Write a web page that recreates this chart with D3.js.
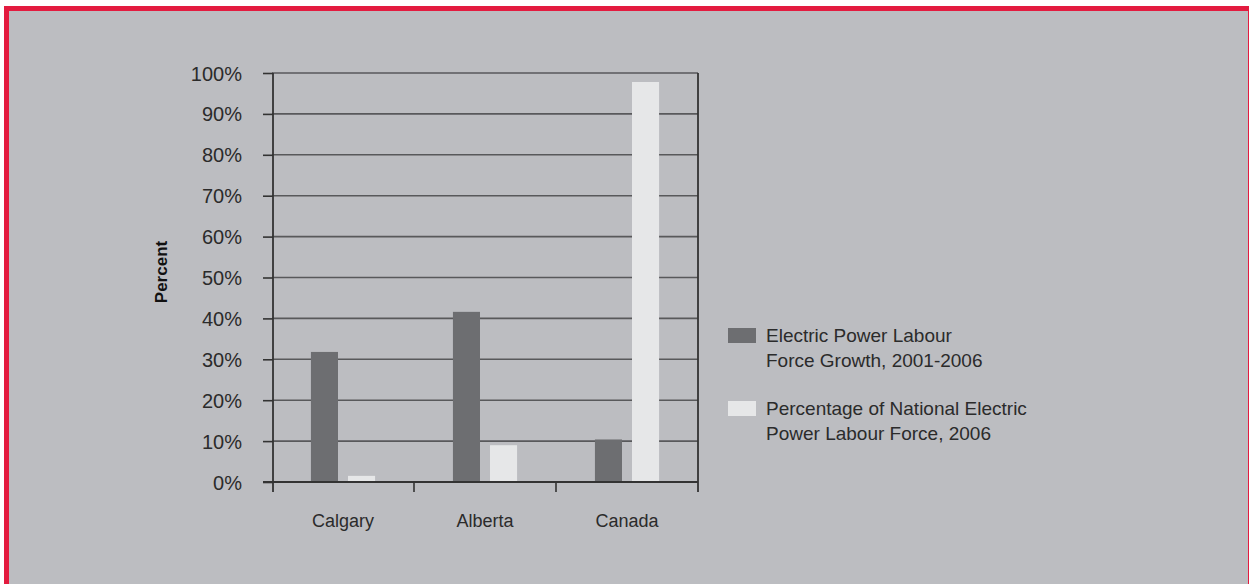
<!DOCTYPE html>
<html>
<head>
<meta charset="utf-8">
<script src="https://cdn.jsdelivr.net/npm/d3@7"></script>
<style>
  body { margin:0; background:#fff; }
  text { font-family:"Liberation Sans", Arial, sans-serif; fill:#2b2b2b; }
</style>
</head>
<body>
<svg id="chart" width="1249" height="584"></svg>
<script>
// data
var categories = ["Calgary","Alberta","Canada"];
var series = ["Electric Power Labour Force Growth, 2001-2006",
              "Percentage of National Electric Power Labour Force, 2006"];
var growth  = [31.8, 41.6, 10.4];
var share   = [1.5, 9.0, 97.8];
var yTicks  = [0,10,20,30,40,50,60,70,80,90,100];
var legendLines = [["Electric Power Labour","Force Growth, 2001-2006"],
                   ["Percentage of National Electric","Power Labour Force, 2006"]];
var colors = ["#6d6e71","#e6e7e8"];

var svg = d3.select("#chart");

// frame
svg.append("rect")
  .attr("x",6.5).attr("y",8.5).attr("width",1244).attr("height",590)
  .style("fill","#bcbdc1").style("stroke","#e31b3f").style("stroke-width",5);

var x0 = d3.scaleBand().domain(categories).range([272,698]);
var x1 = d3.scaleBand().domain(d3.range(series.length))
  .range([0,x0.bandwidth()]).paddingInner(0.27).paddingOuter(1.05);
var y = d3.scaleLinear().domain([0,100]).range([482,73]);

//格線
svg.append("g").selectAll("line").data(yTicks.filter(function(d){return d>0;}))
  .enter().append("line")
  .attr("x1",272).attr("x2",698)
  .attr("y1",function(d){return y(d);}).attr("y2",function(d){return y(d);})
  .style("stroke","#58595b").style("stroke-width",1.6);

// bars
var rows = categories.map(function(c,i){ return {name:c, values:[growth[i],share[i]]}; });
var grp = svg.append("g").selectAll("g").data(rows).enter().append("g")
  .attr("transform",function(d){return "translate("+x0(d.name)+",0)";});
grp.selectAll("rect").data(function(d){return d.values;}).enter().append("rect")
  .attr("x",function(d,i){return x1(i);})
  .attr("width",x1.bandwidth())
  .attr("y",function(d){return y(d);})
  .attr("height",function(d){return y(0)-y(d);})
  .style("fill",function(d,i){return colors[i];});

// y axis
var yAxis = svg.append("g").attr("transform","translate(273,0)")
  .call(d3.axisLeft(y).tickValues(yTicks).tickSize(10).tickPadding(21)
    .tickFormat(function(d){return d+"%";}));
yAxis.select(".domain").remove();
yAxis.selectAll(".tick line").style("stroke","#333").style("stroke-width",1.6);
yAxis.selectAll("text").style("font-size","20px").style("fill","#2b2b2b")
  .style("font-family","'Liberation Sans', Arial, sans-serif").attr("dy","0.35em");

// baseline and side lines
svg.append("line").attr("x1",263).attr("x2",698).attr("y1",y(0)).attr("y2",y(0))
  .style("stroke","#333").style("stroke-width",2);
[273,698].forEach(function(px){
  svg.append("line").attr("x1",px).attr("x2",px).attr("y1",y(100)).attr("y2",y(0)+10)
    .style("stroke","#333").style("stroke-width",1.8);
});
svg.append("g").selectAll("line").data(categories.slice(1)).enter().append("line")
  .attr("x1",function(d){return x0(d);}).attr("x2",function(d){return x0(d);})
  .attr("y1",y(0)).attr("y2",y(0)+10)
  .style("stroke","#333").style("stroke-width",1.6);

// category labels
svg.append("g").selectAll("text").data(categories).enter().append("text")
  .attr("x",function(d){return x0(d)+x0.bandwidth()/2;})
  .attr("y",527).attr("text-anchor","middle")
  .style("font-size","18px").text(function(d){return d;});

// y label
svg.append("text").attr("transform","translate(167,272) rotate(-90)")
  .attr("text-anchor","middle").style("font-size","17px").style("font-weight","bold")
  .style("fill","#111").text("Percent");

// legend
var leg = svg.append("g").selectAll("g").data(legendLines).enter().append("g")
  .attr("transform",function(d,i){return "translate(728,"+(328+i*73)+")";});
leg.append("rect").attr("width",28).attr("height",15)
  .style("fill",function(d,i){return colors[i];});
leg.selectAll("text").data(function(d){return d;}).enter().append("text")
  .attr("x",38).attr("y",function(d,j){return 14+j*25;})
  .style("font-size","19px").text(function(d){return d;});
</script>
</body>
</html>
